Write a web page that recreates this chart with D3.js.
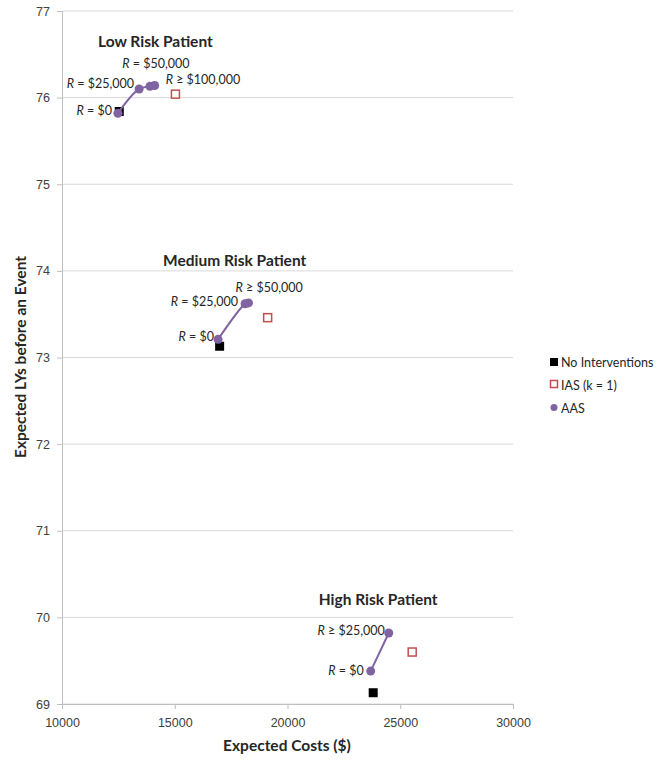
<!DOCTYPE html>
<html>
<head>
<meta charset="utf-8">
<script src="https://cdn.jsdelivr.net/npm/d3@7"></script>
<style>
  body { margin: 0; background: #fff; }
  svg { font-family: Lato, "Open Sans", sans-serif; }
</style>
</head>
<body>
<svg id="chart" width="671" height="762"></svg>
<script>
// ---- data ----
var groupNames = ["Low Risk Patient", "Medium Risk Patient", "High Risk Patient"];

var noIntCost = [12540, 16990, 23800];
var noIntLY   = [75.84, 73.13, 69.13];

var iasCost = [15030, 19120, 25530];
var iasLY   = [76.04, 73.46, 69.60];

var aasCost = [[12480, 13420, 13900, 14110], [16920, 18120, 18270], [23690, 24490]];
var aasLY   = [[75.82, 76.10, 76.13, 76.14], [73.21, 73.62, 73.63], [69.38, 69.82]];

// annotation labels: group, point index, text
var aasLabels = [
  [0, 0, "= $0"], [0, 1, "= $25,000"], [0, 2, "= $50,000"], [0, 3, "\u2265 $100,000"],
  [1, 0, "= $0"], [1, 1, "= $25,000"], [1, 2, "\u2265 $50,000"],
  [2, 0, "= $0"], [2, 1, "\u2265 $25,000"]
];

var xTicks = [10000, 15000, 20000, 25000, 30000];
var yTicks = [69, 70, 71, 72, 73, 74, 75, 76, 77];

var legendNames = ["No Interventions", "IAS (k = 1)", "AAS"];

(function() {

// ---- layout ----
var svg = d3.select("#chart");
var mLeft = 62, mRight = 513, mTop = 11, mBottom = 704;

var x = d3.scaleLinear().domain([10000, 30000]).range([mLeft, mRight]);
var y = d3.scaleLinear().domain([69, 77]).range([mBottom, mTop]);

var purple = "#8064a2", red = "#c0504d";

// gridlines
svg.append("g").selectAll("line").data(yTicks).join("line")
  .attr("x1", mLeft).attr("x2", mRight)
  .attr("y1", function(d){ return y(d); }).attr("y2", function(d){ return y(d); })
  .attr("stroke", "#d9d9d9").attr("stroke-width", 1);

// axes
var yAxis = svg.append("g").attr("transform", "translate(" + mLeft + ",0)")
  .call(d3.axisLeft(y).tickValues(yTicks).tickSize(5).tickPadding(7));
var xAxis = svg.append("g").attr("transform", "translate(0," + mBottom + ")")
  .call(d3.axisBottom(x).tickValues(xTicks).tickFormat(d3.format("d")).tickSize(5).tickPadding(9));

[xAxis, yAxis].forEach(function(a){
  a.select(".domain").attr("stroke", "#bfbfbf");
  a.selectAll(".tick line").attr("stroke", "#bfbfbf");
  a.selectAll(".tick text").attr("fill", "#404040").style("font-size", "12.5px");
});

// axis titles
svg.append("text").attr("x", 287).attr("y", 751)
  .attr("text-anchor", "middle").style("font-size", "15.5px").style("font-weight", "bold")
  .attr("fill", "#262626").text("Expected Costs ($)");
svg.append("text").attr("transform", "translate(26," + 357 + ") rotate(-90)")
  .attr("text-anchor", "middle").style("font-size", "15.5px").style("font-weight", "bold")
  .attr("fill", "#262626").text("Expected LYs before an Event");

// group titles, placed relative to the IAS point of each group
var titleOffsets = [[-20, -47], [-33, -52], [-34, -47]];
groupNames.forEach(function(n, i){
  svg.append("text")
    .attr("x", x(iasCost[i]) + titleOffsets[i][0])
    .attr("y", y(iasLY[i]) + titleOffsets[i][1])
    .attr("text-anchor", "middle").style("font-size", "15.5px").style("font-weight", "bold")
    .attr("fill", "#262626").text(n);
});

// no interventions
svg.append("g").selectAll("rect").data(noIntCost).join("rect")
  .attr("x", function(d){ return x(d) - 4.5; })
  .attr("y", function(d, i){ return y(noIntLY[i]) - 4.5; })
  .attr("width", 9).attr("height", 9).attr("fill", "#000");

// AAS curves and points
var line = d3.line().curve(d3.curveCatmullRom.alpha(0.5))
  .x(function(d){ return x(d[0]); }).y(function(d){ return y(d[1]); });

aasCost.forEach(function(cs, i){
  var pts = cs.map(function(c, j){ return [c, aasLY[i][j]]; });
  svg.append("path").attr("d", line(pts)).attr("fill", "none")
    .attr("stroke", purple).attr("stroke-width", 2);
  svg.append("g").selectAll("circle").data(pts).join("circle")
    .attr("cx", function(d){ return x(d[0]); }).attr("cy", function(d){ return y(d[1]); })
    .attr("r", 4.5).attr("fill", purple);
});

// IAS
svg.append("g").selectAll("rect").data(iasCost).join("rect")
  .attr("x", function(d){ return x(d) - 4; })
  .attr("y", function(d, i){ return y(iasLY[i]) - 4; })
  .attr("width", 8).attr("height", 8).attr("fill", "#fff")
  .attr("stroke", red).attr("stroke-width", 1.5);

// annotations: [dx, dy, anchor]
var labelPos = [
  [-6, 2, "end"], [-5, -1, "end"], [6, -18, "middle"], [11, -1, "start"],
  [-4, 2, "end"], [-7, 2, "end"], [-13, -11, "start"],
  [-7, 4, "end"], [-4, 2, "end"]
];
aasLabels.forEach(function(l, k){
  var p = labelPos[k];
  var t = svg.append("text")
    .attr("x", x(aasCost[l[0]][l[1]]) + p[0])
    .attr("y", y(aasLY[l[0]][l[1]]) + p[1])
    .attr("text-anchor", p[2]).style("font-size", "12.5px").attr("fill", "#262626");
  t.append("tspan").style("font-style", "italic").text("R");
  t.append("tspan").text(" " + l[2]);
});

// legend
var lg = svg.append("g").attr("transform", "translate(554,362)");
lg.append("rect").attr("x", -4).attr("y", -4).attr("width", 8).attr("height", 8).attr("fill", "#000");
lg.append("rect").attr("x", -3.5).attr("y", 18.5).attr("width", 7).attr("height", 7)
  .attr("fill", "#fff").attr("stroke", red).attr("stroke-width", 1.5);
lg.append("circle").attr("cx", 0).attr("cy", 45.5).attr("r", 3.5).attr("fill", purple);
legendNames.forEach(function(n, i){
  lg.append("text").attr("x", 7).attr("y", i * 23 + 4.5)
    .style("font-size", "12.5px").attr("fill", "#262626").text(n);
});

})();
</script>
</body>
</html>
